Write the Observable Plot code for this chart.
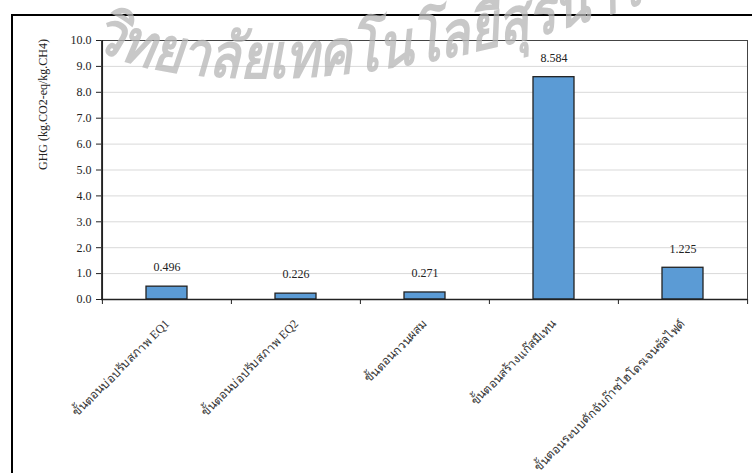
<!DOCTYPE html>
<html>
<head>
<meta charset="utf-8">
<script src="https://cdn.jsdelivr.net/npm/d3@7"></script>
<script src="https://cdn.jsdelivr.net/npm/@observablehq/plot@0.6"></script>
<style>
  html, body { margin: 0; padding: 0; background: #fff; overflow: hidden; }
  #wrap { position: relative; width: 752px; height: 473px; overflow: hidden; }
  #frame { position: absolute; left: 11px; top: 14px; width: 800px; height: 520px; border: 2px solid #000; box-sizing: border-box; }
  #chart { position: absolute; left: 0; top: 0; }
  #wm { position: absolute; left: 0; top: 0; pointer-events: none; }
</style>
</head>
<body>
<div id="wrap">
  <div id="frame"></div>
  <div id="chart"></div>
  <svg id="wm" width="752" height="473" xmlns="http://www.w3.org/2000/svg">
    <defs><path id="arc" d="M 112 45 C 207 95, 476 95, 793 0 L 951 -70"/></defs>
    <text transform="scale(0.82 1)" font-family="Noto Sans, DejaVu Sans, sans-serif" font-size="62" font-weight="bold" font-style="italic" fill="#b5b5b5" fill-opacity="0.75">
      <textPath href="#arc">วิทยาลัยเทคโนโลยีสุรนารี</textPath>
    </text>
  </svg>
</div>
<script>
const categories = [
  "ขั้นตอนบ่อปรับสภาพ EQ1",
  "ขั้นตอนบ่อปรับสภาพ EQ2",
  "ขั้นตอนกวนผสม",
  "ขั้นตอนสร้างแก๊สมีเทน",
  "ขั้นตอนระบบดักจับก๊าซไฮโดรเจนซัลไฟด์"
];
const values = [0.496, 0.226, 0.271, 8.584, 1.225];
const yTicks = [0, 1, 2, 3, 4, 5, 6, 7, 8, 9, 10];
const yLabel = "GHG (kg.CO2-eq/kg.CH4)";

const data = categories.map((c, i) => ({category: c, value: values[i]}));

const W = 752, H = 473;
const mL = 101, mR = 5, mT = 40, mB = 174;
const step = (W - mL - mR) / categories.length;
const serif = "'Liberation Serif', 'Times New Roman', serif";

const chart = Plot.plot({
  width: W,
  height: H,
  marginLeft: mL,
  marginRight: mR,
  marginTop: mT,
  marginBottom: mB,
  style: {fontFamily: serif, fontSize: "12px", color: "#222", background: "transparent"},
  x: {domain: categories, padding: 0, axis: null},
  y: {domain: [0, 10], axis: null},
  marks: [
    Plot.gridY(yTicks, {stroke: "#d9d9d9", strokeOpacity: 1, strokeWidth: 1}),
    Plot.frame({stroke: "#444", strokeWidth: 1}),
    Plot.barY(data, {x: "category", y: "value", fill: "#5B9BD5", stroke: "#222", strokeWidth: 1.3, insetLeft: 44, insetRight: 44}),
    Plot.text(data, {x: "category", y: "value", text: d => d.value.toFixed(3), dy: -19, fontSize: 12, fill: "#222"}),
    Plot.axisY(yTicks, {tickFormat: d => d.toFixed(1), tickSize: 5, tickPadding: 5, fontSize: 12, label: null, stroke: "#222"}),
    Plot.ruleX([0], {x: () => categories[0], dx: -step / 2, stroke: "#222", strokeWidth: 1.3}),
    Plot.ruleY([0], {stroke: "#222", strokeWidth: 1.3}),
    Plot.axisX({tickSize: 5, text: null, dx: -step / 2, stroke: "#222", label: null}),
    Plot.axisX([categories[categories.length - 1]], {tickSize: 5, text: null, dx: step / 2, stroke: "#222", label: null}),
    Plot.text(categories, {x: d => d, frameAnchor: "bottom", text: d => d, rotate: -45, textAnchor: "end", dx: 3, dy: 25, fontSize: 12, fill: "#333"}),
    Plot.text([yLabel], {frameAnchor: "left", text: d => d, rotate: -90, dx: -58, fontSize: 12, fill: "#222"})
  ]
});
document.getElementById("chart").appendChild(chart);
</script>
</body>
</html>
